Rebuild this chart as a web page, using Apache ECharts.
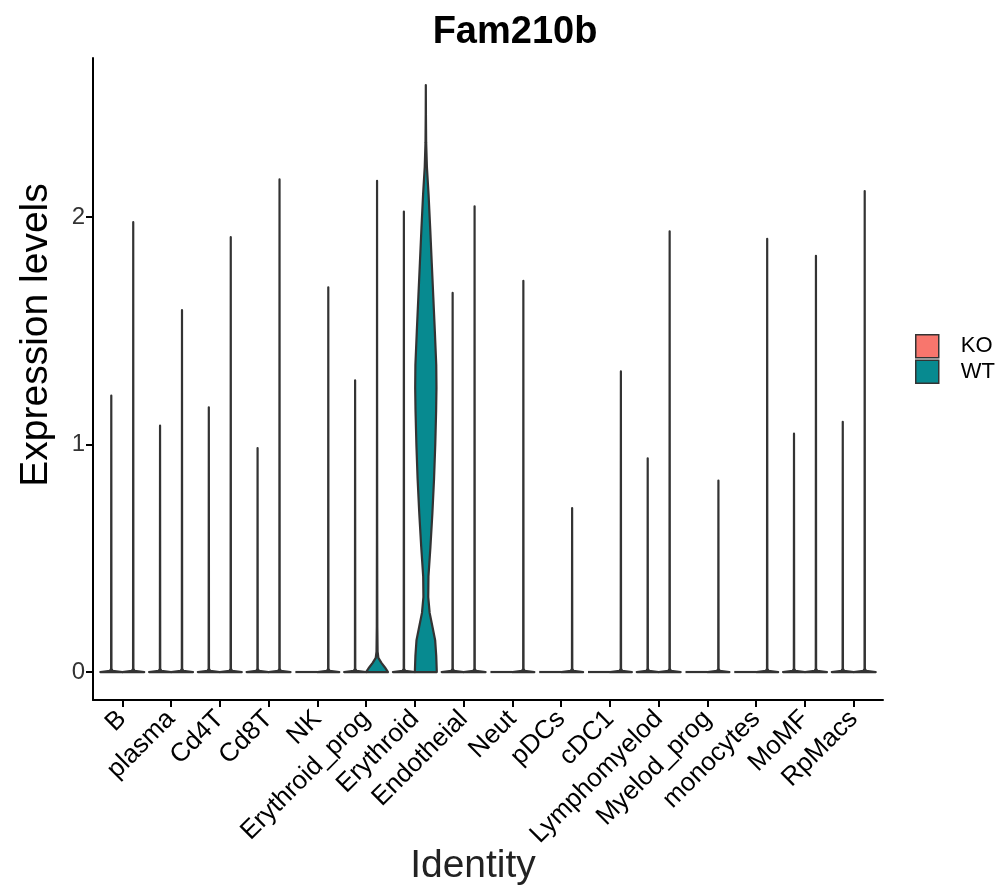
<!DOCTYPE html>
<html>
<head>
<meta charset="utf-8">
<script src="https://cdn.jsdelivr.net/npm/echarts@6/dist/echarts.min.js"></script>
<style>
  html, body { margin: 0; padding: 0; background: #fff; }
  #main { width: 1003px; height: 887px; }
</style>
</head>
<body>
<div id="main"></div>
<script>
// cell types on the x axis
var categories = ['B', 'plasma', 'Cd4T', 'Cd8T', 'NK', 'Erythroid_prog', 'Erythroid',
  'Endotheial', 'Neut', 'pDCs', 'cDC1', 'Lymphomyelod', 'Myelod_prog', 'monocytes', 'MoMF', 'RpMacs'];

// top of each violin (max expression), 0 = all cells zero
var koMax = [1.216, 1.084, 1.164, 0.985, 0, 1.283, 2.025, 1.667, 0, 0, 0, 0.940, 0, 0, 1.048, 1.10];
var wtMax = [1.978, 1.591, 1.912, 2.166, 1.692, 2.160, 2.581, 2.048, 1.720, 0.721, 1.322, 1.938, 0.842, 1.905, 1.830, 2.115];

// density outline (value, relative half width) for mostly-zero violins
var thinY = [0, 0.005, 0.014];
var thinW = [1, 0.12, 0.015];

// Erythroid_prog WT: small bump at zero
var progY = [0, 0.02, 0.04, 0.062, 0.09, 0.2, 0.6, 1.2];
var progW = [1, 0.72, 0.4, 0.12, 0.05, 0.025, 0.012, 0.006];

// Erythroid WT: full violin
var eryY = [0, 0.07, 0.14, 0.2, 0.26, 0.33, 0.42, 0.55, 0.7, 0.85, 1.0, 1.15, 1.25, 1.35, 1.5, 1.65, 1.8, 1.95, 2.1, 2.22, 2.33, 2.45];
var eryW = [1, 0.95, 0.85, 0.6, 0.35, 0.22, 0.24, 0.42, 0.6, 0.75, 0.86, 0.94, 0.97, 0.95, 0.82, 0.68, 0.54, 0.4, 0.25, 0.1, 0.03, 0.01];

var groups = ['KO', 'WT'];
var groupColors = ['#F8766D', '#078A90'];
var dodge = 0.225;
var halfWidth = 0.225;

function profileFor(group, idx) {
  if (group === 'WT' && categories[idx] === 'Erythroid') return [eryY, eryW];
  if (group === 'WT' && categories[idx] === 'Erythroid_prog') return [progY, progW];
  return [thinY, thinW];
}

function makeRender(gi) {
  return function (params, api) {
    var pos = api.value(0);
    var top = api.value(1);
    var idx = params.dataIndex;
    var cx = pos + (gi === 0 ? -dodge : dodge);
    var style = {
      fill: groupColors[gi],
      stroke: '#333333',
      lineWidth: 2.2,
      lineJoin: 'round'
    };
    if (top <= 0) {
      return {
        type: 'polyline',
        shape: { points: [api.coord([cx - halfWidth, 0]), api.coord([cx + halfWidth, 0])] },
        style: { stroke: '#333333', lineWidth: 2.2, fill: null }
      };
    }
    var prof = profileFor(groups[gi], idx);
    var ys = prof[0], ws = prof[1];
    var left = [], right = [];
    for (var k = 0; k < ys.length; k++) {
      if (ys[k] >= top) break;
      left.push(api.coord([cx - ws[k] * halfWidth, ys[k]]));
      right.push(api.coord([cx + ws[k] * halfWidth, ys[k]]));
    }
    var pts = left.concat([api.coord([cx, top])]).concat(right.reverse());
    return { type: 'polygon', shape: { points: pts }, style: style };
  };
}

var xTicks = categories.map(function (c, i) { return i + 1; });

var series = groups.map(function (g, gi) {
  var vals = gi === 0 ? koMax : wtMax;
  return {
    name: g,
    type: 'custom',
    renderItem: makeRender(gi),
    itemStyle: { color: groupColors[gi], borderColor: '#333', borderWidth: 1.5 },
    encode: { x: 0, y: 1 },
    data: vals.map(function (v, i) { return [i + 1, v]; })
  };
});

var chart = echarts.init(document.getElementById('main'));
chart.setOption({
  animation: false,
  backgroundColor: '#ffffff',
  textStyle: { fontFamily: 'Liberation Sans, Arial, sans-serif' },
  title: {
    text: 'Fam210b',
    left: 510,
    top: 9,
    textAlign: 'center',
    textStyle: { fontSize: 38, fontWeight: 'bold', color: '#000', fontFamily: 'Liberation Sans, Arial, sans-serif' }
  },
  legend: {
    orient: 'vertical',
    left: 915,
    top: 334,
    padding: 0,
    itemWidth: 23,
    itemHeight: 23,
    itemGap: 1,
    icon: 'rect',
    textStyle: { fontSize: 22, color: '#000', padding: [0, 0, 0, 17] },
    data: groups.map(function (g, gi) {
      return { name: g, itemStyle: { color: groupColors[gi], borderColor: '#333', borderWidth: 1.5 } };
    })
  },
  grid: { left: 93, right: 120, top: 58, bottom: 187, outerBoundsMode: 'none', containLabel: false },
  xAxis: {
    type: 'value',
    min: 0.4,
    max: 16.6,
    name: 'Identity',
    nameLocation: 'middle',
    nameGap: 147,
    nameMoveOverlap: false,
    nameTextStyle: { fontSize: 39, color: '#222', padding: [0, 30, 0, 0] },
    splitLine: { show: false },
    axisLine: { onZero: false, lineStyle: { color: '#000', width: 2 } },
    axisTick: { show: true, length: 7, customValues: xTicks, lineStyle: { color: '#000', width: 2 } },
    axisLabel: {
      customValues: xTicks,
      rotate: 45,
      margin: 15,
      fontSize: 26,
      color: '#000',
      formatter: function (v) { return categories[Math.round(v) - 1] || ''; }
    }
  },
  yAxis: {
    type: 'value',
    min: -0.123,
    max: 2.70,
    name: 'Expression levels',
    nameLocation: 'middle',
    nameGap: 37,
    nameMoveOverlap: false,
    nameTextStyle: { fontSize: 39, color: '#000', padding: [0, 0, 0, 88] },
    splitLine: { show: false },
    axisLine: { show: true, onZero: false, lineStyle: { color: '#000', width: 2 } },
    axisTick: { show: true, length: 7, customValues: [0, 1, 2], lineStyle: { color: '#000', width: 2 } },
    axisLabel: { customValues: [0, 1, 2], fontSize: 24, color: '#333', margin: 8 }
  },
  series: series
});
</script>
</body>
</html>
